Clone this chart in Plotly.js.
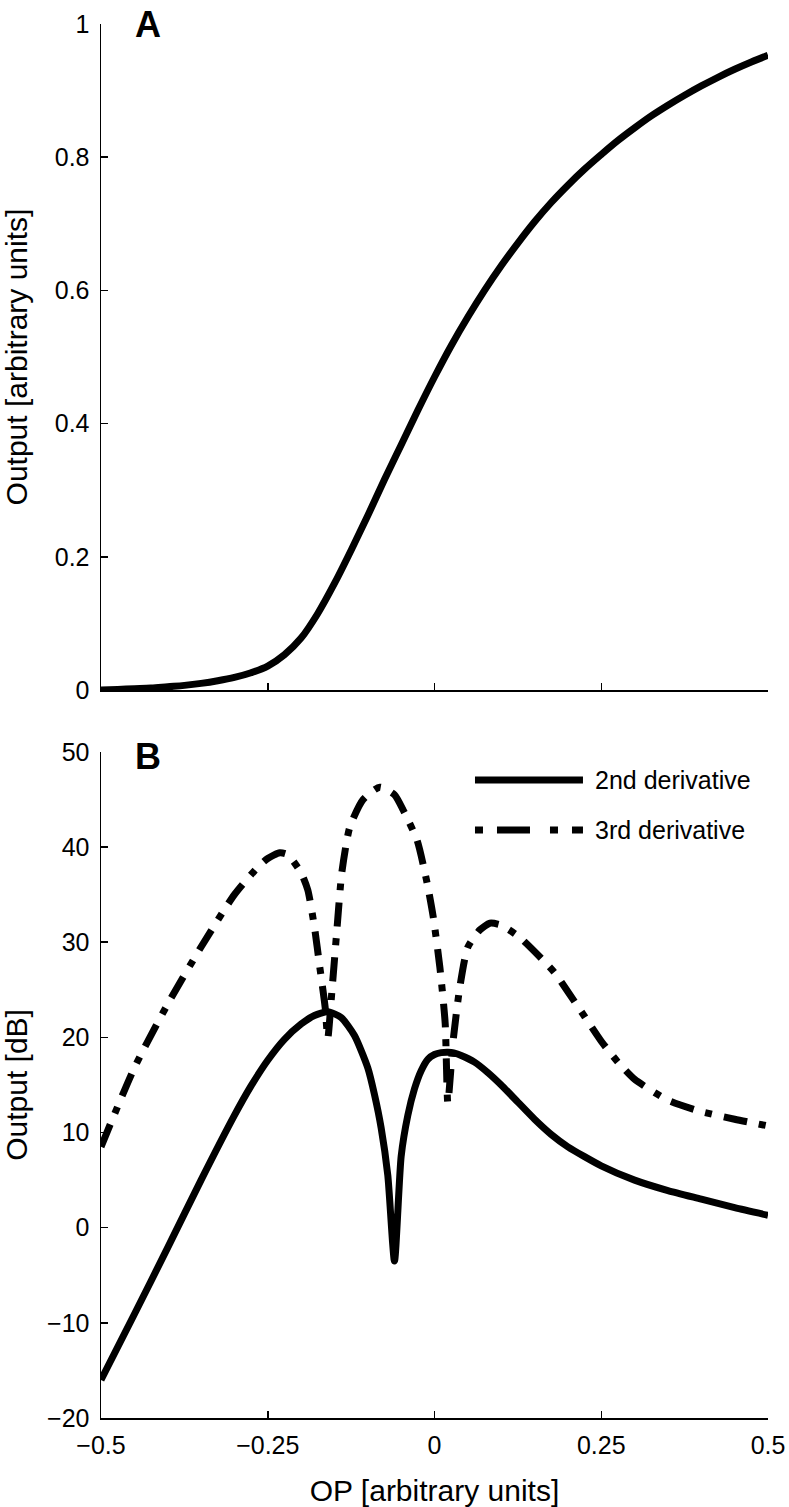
<!DOCTYPE html>
<html>
<head>
<meta charset="utf-8">
<script src="https://cdn.plot.ly/plotly-3.0.1.min.js"></script>
<style>html,body{margin:0;padding:0;background:#fff;}#chart{width:789px;height:1507px;}</style>
</head>
<body>
<div id="chart"></div>
<script>
// ---- Panel A: static input-output function ----
const opA = [-0.500,-0.475,-0.450,-0.425,-0.400,-0.375,-0.350,-0.325,-0.300,-0.275,-0.250,-0.225,-0.200,-0.175,-0.150,-0.125,-0.100,-0.075,-0.050,-0.025,0.000,0.025,0.050,0.075,0.100,0.125,0.150,0.175,0.200,0.225,0.250,0.275,0.300,0.325,0.350,0.375,0.400,0.425,0.450,0.475,0.500];
const outputA = [0.000,0.001,0.002,0.003,0.005,0.007,0.010,0.014,0.019,0.026,0.036,0.053,0.078,0.115,0.160,0.210,0.262,0.316,0.368,0.420,0.470,0.517,0.560,0.600,0.637,0.671,0.703,0.732,0.758,0.782,0.804,0.825,0.844,0.862,0.878,0.893,0.907,0.920,0.932,0.943,0.953];

// ---- Panel B: 2nd derivative (dB) ----
const opB2 = [-0.50,-0.45,-0.40,-0.35,-0.30,-0.275,-0.25,-0.225,-0.20,-0.18,-0.16,-0.14,-0.12,-0.10,-0.09,-0.08,-0.07,-0.06,-0.05,-0.04,-0.03,-0.02,-0.01,0.00,0.01,0.02,0.03,0.04,0.06,0.08,0.10,0.125,0.15,0.175,0.20,0.25,0.30,0.35,0.40,0.45,0.50];
const dB2nd = [-16.0,-9.1,-2.1,5.0,11.8,14.9,17.6,19.8,21.4,22.3,22.7,22.1,20.2,16.8,14.0,10.5,5.5,-3.5,7.5,11.8,14.6,16.5,17.7,18.2,18.4,18.45,18.35,18.1,17.4,16.3,15.0,13.2,11.4,9.8,8.5,6.5,5.0,3.9,3.0,2.1,1.3];

// ---- Panel B: 3rd derivative (dB) ----
const opB3 = [-0.50,-0.45,-0.40,-0.35,-0.30,-0.266,-0.25,-0.232,-0.22,-0.20,-0.19,-0.18,-0.172,-0.164,-0.160,-0.154,-0.146,-0.139,-0.127,-0.107,-0.082,-0.06,-0.047,-0.026,-0.011,-0.002,0.008,0.016,0.020,0.028,0.038,0.050,0.068,0.083,0.10,0.128,0.163,0.18,0.20,0.225,0.25,0.275,0.30,0.35,0.40,0.45,0.50];
const dB3rd = [8.5,16.8,23.5,29.5,35.0,37.8,38.8,39.4,39.2,37.3,35.5,31.6,27.4,23.2,19.9,24.7,31.6,37.3,42.1,45.0,46.3,45.5,43.9,40.7,36.2,32.7,27.4,21.5,13.1,19.7,25.3,29.5,31.3,32.0,31.8,30.5,28.1,26.8,24.8,22.2,19.6,17.4,15.6,13.4,12.2,11.4,10.7];

// ---- Tick labels ----
const xTickVals = [-0.5,-0.25,0,0.25,0.5];
const xTickText = ['\u22120.5','\u22120.25','0','0.25','0.5'];
const yATickVals = [0,0.2,0.4,0.6,0.8,1];
const yATickText = ['0','0.2','0.4','0.6','0.8','1'];
const yBTickVals = [-20,-10,0,10,20,30,40,50];
const yBTickText = ['\u221220','\u221210','0','10','20','30','40','50'];
const seriesNames = ['2nd derivative','3rd derivative'];

const FONT = 'Liberation Sans, Arial, Helvetica, sans-serif';
const LW = 7;

const traces = [
  {x: opA, y: outputA, xaxis:'x', yaxis:'y', mode:'lines', line:{color:'#000', width:LW, shape:'spline', smoothing:1}, cliponaxis:false, showlegend:false},
  {x: opB2, y: dB2nd, xaxis:'x2', yaxis:'y2', mode:'lines', name: seriesNames[0], line:{color:'#000', width:LW, shape:'spline', smoothing:0.6}, cliponaxis:false, showlegend:false},
  {x: opB3, y: dB3rd, xaxis:'x2', yaxis:'y2', mode:'lines', name: seriesNames[1], line:{color:'#000', width:LW, shape:'spline', smoothing:0.6, dash:'24px,12px,7px,12px'}, cliponaxis:false, showlegend:false}
];

const axBase = {showline:true, linecolor:'#000', linewidth:1.5, ticks:'inside', ticklen:7, tickwidth:1.5, tickcolor:'#000', showgrid:false, zeroline:false, tickfont:{family:FONT, size:25, color:'#000'}, mirror:false};
const titleFont = {family:FONT, size:30, color:'#000'};

const layout = {
  width:789, height:1507,
  margin:{l:101, r:21, t:24, b:89},
  paper_bgcolor:'#fff', plot_bgcolor:'#fff',
  font:{family:FONT, color:'#000'},
  showlegend:false,
  xaxis: Object.assign({}, axBase, {anchor:'y', domain:[0,1], range:[-0.5,0.5], tickvals:xTickVals, ticktext:xTickText, showticklabels:false}),
  yaxis: Object.assign({}, axBase, {anchor:'x', domain:[0.5222,1], range:[0,1], tickvals:yATickVals, ticktext:yATickText, ticklabelstandoff:5, title:{text:'Output [arbitrary units]', font:titleFont, standoff:22}}),
  xaxis2: Object.assign({}, axBase, {anchor:'y2', domain:[0,1], range:[-0.5,0.5], tickvals:xTickVals, ticktext:xTickText, ticklabelstandoff:4, title:{text:'OP [arbitrary units]', font:titleFont, standoff:24}}),
  yaxis2: Object.assign({}, axBase, {anchor:'x2', domain:[0,0.4778], range:[-20,50], tickvals:yBTickVals, ticktext:yBTickText, ticklabelstandoff:5, title:{text:'Output [dB]', font:titleFont, standoff:22}}),
  annotations:[
    {text:'<b>A</b>', xref:'paper', yref:'paper', x:0.0705, y:1.0, xanchor:'center', yanchor:'middle', showarrow:false, font:{family:FONT, size:36, color:'#000'}},
    {text:'<b>B</b>', xref:'paper', yref:'paper', x:0.0705, y:0.4742, xanchor:'center', yanchor:'middle', showarrow:false, font:{family:FONT, size:36, color:'#000'}},
    {text:seriesNames[0], xref:'paper', yref:'paper', x:0.7376, y:0.4577, xanchor:'left', yanchor:'middle', showarrow:false, font:{family:FONT, size:25, color:'#000'}},
    {text:seriesNames[1], xref:'paper', yref:'paper', x:0.7376, y:0.4218, xanchor:'left', yanchor:'middle', showarrow:false, font:{family:FONT, size:25, color:'#000'}}
  ],
  shapes:[
    {type:'line', xref:'paper', yref:'paper', x0:0.5607, x1:0.7226, y0:0.4577, y1:0.4577, line:{color:'#000', width:LW}},
    {type:'line', xref:'paper', yref:'paper', x0:0.5607, x1:0.7226, y0:0.4218, y1:0.4218, line:{color:'#000', width:LW, dash:'8px,14px,33px,20px'}}
  ]
};

Plotly.newPlot('chart', traces, layout, {displayModeBar:false, staticPlot:true});
</script>
</body>
</html>
